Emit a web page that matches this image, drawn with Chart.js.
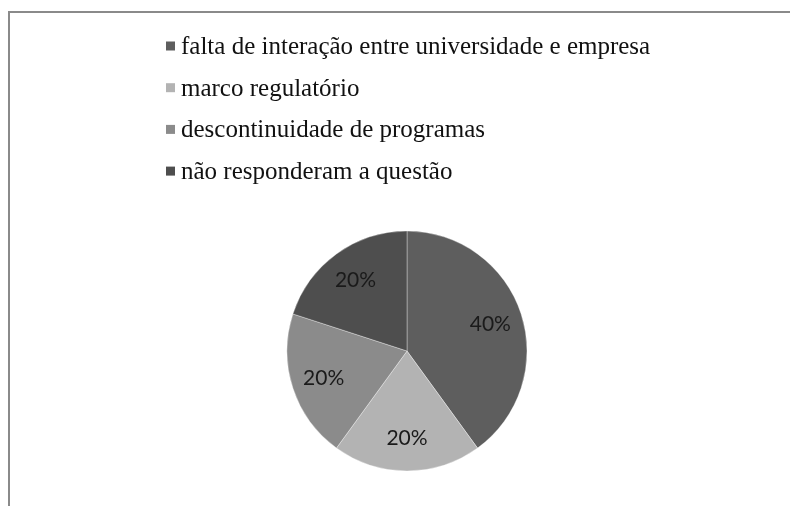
<!DOCTYPE html>
<html>
<head>
<meta charset="utf-8">
<script src="https://cdn.jsdelivr.net/npm/chart.js@4/dist/chart.umd.min.js"></script>
<style>
  html, body { margin: 0; padding: 0; background: #ffffff; }
  #wrap { position: relative; width: 790px; height: 506px; overflow: hidden; }
  #frame { position: absolute; left: 8px; top: 11px; width: 800px; height: 520px;
           border-left: 2px solid #8a8a8a; border-top: 2px solid #8a8a8a; box-sizing: border-box; }
  #c { position: absolute; left: 0; top: 0; }
</style>
</head>
<body>
<div id="wrap">
  <div id="frame"></div>
  <canvas id="c" width="790" height="506"></canvas>
</div>
<script>
const categories = [
  "falta de interação entre universidade e empresa",
  "marco regulatório",
  "descontinuidade de programas",
  "não responderam a questão"
];
const values = [40, 20, 20, 20];
const sliceLabels = ["40%", "20%", "20%", "20%"];
const colors = ["#5e5e5e", "#b3b3b3", "#8b8b8b", "#4e4e4e"];

const legendPlugin = {
  id: 'serifLegend',
  afterDraw(chart) {
    const ctx = chart.ctx;
    const labels = chart.data.labels;
    const bg = chart.data.datasets[0].backgroundColor;
    ctx.save();
    ctx.font = '25px "Liberation Serif", "Times New Roman", serif';
    ctx.textBaseline = 'alphabetic';
    ctx.textAlign = 'left';
    const x0 = 166, baseY = 54, step = 41.7;
    labels.forEach((lab, i) => {
      const by = baseY + i * step;
      ctx.fillStyle = bg[i];
      ctx.fillRect(x0, by - 12.5, 9, 9);
      ctx.fillStyle = '#111111';
      ctx.fillText(lab, x0 + 15, by);
    });
    ctx.restore();
  }
};

const sliceLabelPlugin = {
  id: 'sliceLabels',
  afterDatasetsDraw(chart) {
    const ctx = chart.ctx;
    const meta = chart.getDatasetMeta(0);
    ctx.save();
    ctx.font = '21px Lato, "Open Sans", sans-serif';
    ctx.fillStyle = '#1a1a1a';
    ctx.textAlign = 'center';
    ctx.textBaseline = 'middle';
    meta.data.forEach((arc, i) => {
      const p = arc.getProps(['startAngle', 'endAngle', 'outerRadius', 'x', 'y'], true);
      const mid = (p.startAngle + p.endAngle) / 2;
      const r = p.outerRadius * 0.73;
      ctx.fillText(sliceLabels[i], p.x + Math.cos(mid) * r, p.y + Math.sin(mid) * r);
    });
    ctx.restore();
  }
};

new Chart(document.getElementById('c'), {
  type: 'pie',
  data: {
    labels: categories,
    datasets: [{
      data: values,
      backgroundColor: colors,
      borderColor: 'rgba(255,255,255,0.35)',
      borderWidth: 1,
      radius: 120
    }]
  },
  options: {
    responsive: false,
    animation: false,
    layout: { padding: { left: 24, right: 0, top: 231, bottom: 35 } },
    plugins: {
      legend: { display: false },
      tooltip: { enabled: false }
    }
  },
  plugins: [legendPlugin, sliceLabelPlugin]
});
</script>
</body>
</html>
